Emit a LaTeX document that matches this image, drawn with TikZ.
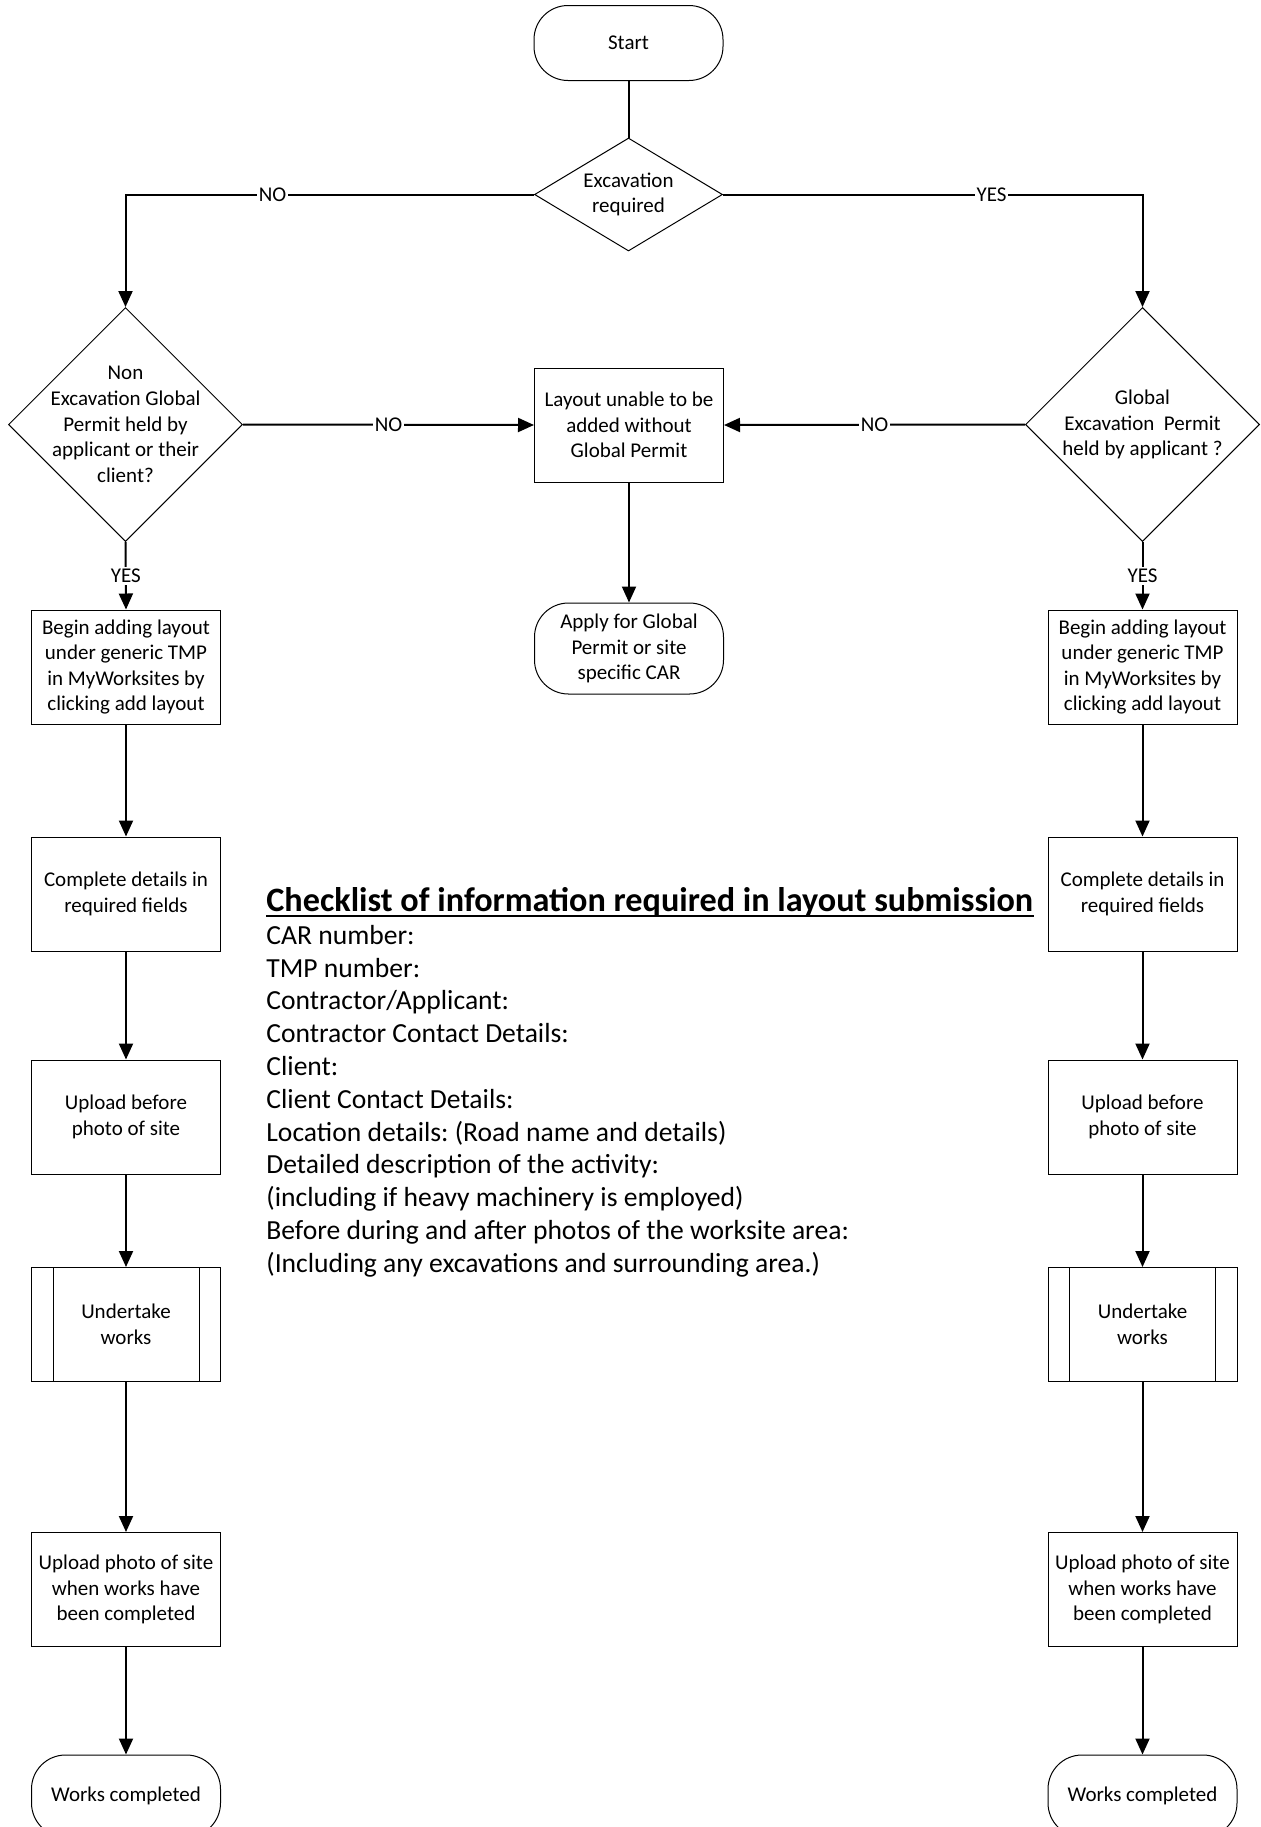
\documentclass[tikz,border=0pt]{standalone}
\usepackage{fontspec}
\setmainfont{Carlito}
\usetikzlibrary{arrows.meta, shapes.geometric}
\frenchspacing

\begin{document}
\begin{tikzpicture}[x=0.5pt, y=-0.5pt,
    box/.style={draw, line width=0.5pt, minimum width=94.5pt, minimum height=57pt, align=center, inner sep=2pt, font=\fontsize{10.5}{12.8}\selectfont},
    term/.style={box, rounded corners=17pt, minimum height=37.5pt},
    decision/.style={draw, diamond, line width=0.5pt, inner sep=0pt},
    dtext/.style={align=center, inner sep=0pt, font=\fontsize{10.5}{12.8}\selectfont},
    flow/.style={line width=1pt, -{Triangle[length=8pt, width=7pt]}},
    lbl/.style={fill=white, inner sep=1pt, font=\fontsize{10.5}{12}\selectfont},
    listline/.style={anchor=base west, inner sep=0pt, font=\fontsize{13.8}{16}\selectfont}]
    \useasboundingbox (0,0) rectangle (1260,1827);

    % top of the chart
    \node[term] (start) at (628.5,43) {Start};
    \node[decision, minimum width=94pt, minimum height=56.5pt] (excav) at (628.5,194.5) {};
    \node[dtext] (excavtxt) at (excav) {Excavation\\required};
    \node[decision, minimum width=117pt, minimum height=117pt] (nonglob) at (125.5,424.5) {};
    \node[dtext] (nonglobtxt) at (nonglob) {Non\\Excavation Global\\Permit held by\\applicant or their\\client?};
    \node[decision, minimum width=117pt, minimum height=117pt] (glob) at (1142.5,424.5) {};
    \node[dtext] (globtxt) at (glob) {Global\\Excavation\ \ Permit\\held by applicant ?};
    \node[box] (noperm) at (629,425) {Layout unable to be\\added without\\Global Permit};
    \node[term, minimum height=45.5pt] (apply) at (629,648.5) {Apply for Global\\Permit or site\\specific CAR};

    % left column
    \node[box] (lbegin) at (126,667) {Begin adding layout\\under generic TMP\\in MyWorksites by\\clicking add layout};
    \node[box] (ldetails) at (126,894) {Complete details in\\required fields};
    \node[box] (lbefore) at (126,1117) {Upload before\\photo of site};
    \node[box] (lworks) at (126,1324.5) {Undertake\\works};
    \node[box] (lafter) at (126,1589.5) {Upload photo of site\\when works have\\been completed};
    \node[term, minimum height=41pt] (ldone) at (126,1796) {Works completed};

    % right column
    \node[box] (rbegin) at (1142.5,667) {Begin adding layout\\under generic TMP\\in MyWorksites by\\clicking add layout};
    \node[box] (rdetails) at (1142.5,894) {Complete details in\\required fields};
    \node[box] (rbefore) at (1142.5,1117) {Upload before\\photo of site};
    \node[box] (rworks) at (1142.5,1324.5) {Undertake\\works};
    \node[box] (rafter) at (1142.5,1589.5) {Upload photo of site\\when works have\\been completed};
    \node[term, minimum height=41pt] (rdone) at (1142.5,1796) {Works completed};

    % side bars of the process boxes
    \draw[line width=0.5pt]
    ([xshift=11pt]lworks.north west) -- ([xshift=11pt]lworks.south west)
    ([xshift=-11pt]lworks.north east) -- ([xshift=-11pt]lworks.south east)
    ([xshift=11pt]rworks.north west) -- ([xshift=11pt]rworks.south west)
    ([xshift=-11pt]rworks.north east) -- ([xshift=-11pt]rworks.south east);

    % connectors
    \draw[line width=1pt] (start) -- (excav);
    \draw[flow] (excav.west) -| node[lbl, pos=0.32] (noA) {NO} (nonglob.north);
    \draw[flow] (excav.east) -| node[lbl, pos=0.32] (yesA) {YES} (glob.north);
    \draw[flow] (nonglob.east) -- node[lbl] (noB) {NO} (noperm.west);
    \draw[flow] (glob.west) -- node[lbl] (noC) {NO} (noperm.east);
    \draw[flow] (noperm) -- (apply);
    \draw[flow] (nonglob.south) -- node[lbl] (yesB) {YES} (lbegin.north);
    \draw[flow] (glob.south) -- node[lbl] (yesC) {YES} (rbegin.north);
    \draw[flow] (lbegin) -- (ldetails);
    \draw[flow] (ldetails) -- (lbefore);
    \draw[flow] (lbefore) -- (lworks);
    \draw[flow] (lworks) -- (lafter);
    \draw[flow] (lafter) -- (ldone);
    \draw[flow] (rbegin) -- (rdetails);
    \draw[flow] (rdetails) -- (rbefore);
    \draw[flow] (rbefore) -- (rworks);
    \draw[flow] (rworks) -- (rafter);
    \draw[flow] (rafter) -- (rdone);

    % checklist
    \node[anchor=base west, inner sep=0pt, font=\fontsize{17.1}{20}\bfseries\selectfont] (chead) at (266,911.5) {Checklist of information required in layout submission};
    \draw[line width=1pt] ([yshift=-2.3pt]chead.base west) -- ([yshift=-2.3pt]chead.base east);
    \foreach \txt [count=\i] in {{CAR number:}, {TMP number:}, {Contractor/Applicant:}, {Contractor Contact Details:}, {Client:}, {Client Contact Details:}, {Location details: (Road name and details)}, {Detailed description of the activity:}, {(including if heavy machinery is employed)}, {Before during and after photos of the worksite area:}, {(Including any excavations and surrounding area.)}}
        \node[listline] (item\i) at (266,911.5+32.8*\i) {\txt};
\end{tikzpicture}
\end{document}
